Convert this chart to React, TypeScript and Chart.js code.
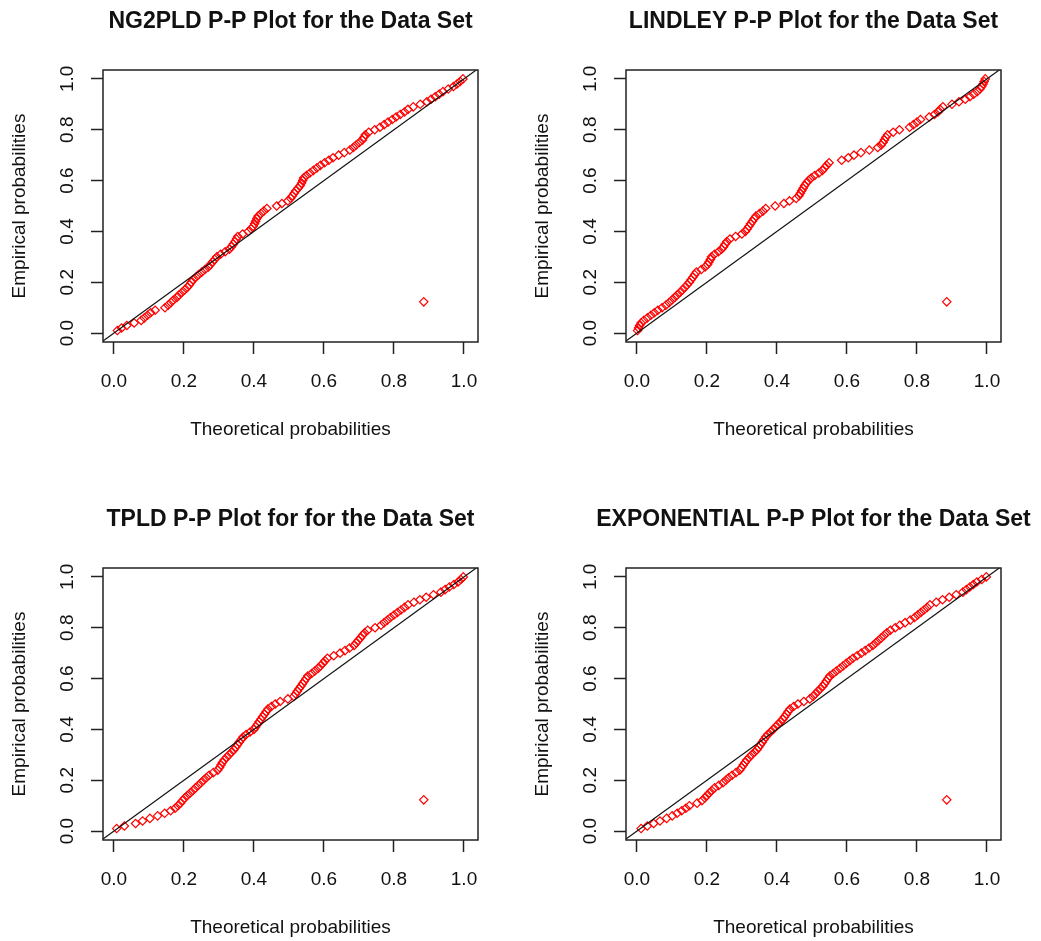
import React, { useEffect, useRef } from 'react';
import { Chart, registerables } from 'chart.js';

Chart.register(...registerables);

const FONT = '"Liberation Sans", Arial, Helvetica, sans-serif';

// Empirical probabilities (ECDF values) shared by every panel
const empirical = [
  0.01, 0.02, 0.03, 0.04, 0.05, 0.06, 0.07, 0.08, 0.09, 0.10,
  0.11, 0.12, 0.13, 0.14, 0.15, 0.16, 0.17, 0.18, 0.19, 0.20,
  0.21, 0.22, 0.23, 0.24, 0.25, 0.26, 0.27, 0.28, 0.29, 0.30,
  0.31, 0.32, 0.33, 0.34, 0.35, 0.36, 0.37, 0.38, 0.39, 0.40,
  0.41, 0.42, 0.43, 0.44, 0.45, 0.46, 0.47, 0.48, 0.49, 0.50,
  0.51, 0.52, 0.53, 0.54, 0.55, 0.56, 0.57, 0.58, 0.59, 0.60,
  0.61, 0.62, 0.63, 0.64, 0.65, 0.66, 0.67, 0.68, 0.69, 0.70,
  0.71, 0.72, 0.73, 0.74, 0.75, 0.76, 0.77, 0.78, 0.79, 0.80,
  0.81, 0.82, 0.83, 0.84, 0.85, 0.86, 0.87, 0.88, 0.89, 0.90,
  0.91, 0.92, 0.93, 0.94, 0.95, 0.96, 0.97, 0.98, 0.99, 1.00,
];

// Theoretical probabilities for each fitted model
const ng2pldTheoretical = [
  0.010, 0.022, 0.037, 0.058, 0.078, 0.087, 0.096, 0.105, 0.118, 0.146,
  0.155, 0.163, 0.170, 0.180, 0.186, 0.194, 0.202, 0.210, 0.216, 0.221,
  0.226, 0.234, 0.242, 0.251, 0.260, 0.270, 0.276, 0.282, 0.288, 0.294,
  0.305, 0.318, 0.330, 0.336, 0.341, 0.346, 0.350, 0.354, 0.368, 0.384,
  0.392, 0.398, 0.402, 0.405, 0.408, 0.412, 0.420, 0.428, 0.437, 0.465,
  0.480, 0.497, 0.505, 0.510, 0.515, 0.520, 0.526, 0.532, 0.536, 0.539,
  0.542, 0.550, 0.560, 0.570, 0.580, 0.590, 0.602, 0.614, 0.626, 0.642,
  0.658, 0.674, 0.684, 0.692, 0.701, 0.710, 0.714, 0.718, 0.728, 0.745,
  0.760, 0.772, 0.783, 0.795, 0.806, 0.818, 0.830, 0.840, 0.855, 0.875,
  0.894, 0.906, 0.918, 0.929, 0.940, 0.955, 0.970, 0.980, 0.989, 0.997,
];

const lindleyTheoretical = [
  0.002, 0.005, 0.008, 0.012, 0.020, 0.030, 0.040, 0.050, 0.060, 0.072,
  0.083, 0.092, 0.100, 0.108, 0.115, 0.123, 0.130, 0.137, 0.144, 0.150,
  0.155, 0.160, 0.165, 0.170, 0.184, 0.195, 0.202, 0.206, 0.210, 0.213,
  0.222, 0.233, 0.242, 0.248, 0.252, 0.257, 0.266, 0.282, 0.300, 0.310,
  0.315, 0.320, 0.325, 0.330, 0.335, 0.340, 0.350, 0.360, 0.368, 0.395,
  0.420, 0.436, 0.455, 0.463, 0.467, 0.471, 0.475, 0.479, 0.484, 0.490,
  0.498, 0.508, 0.520, 0.530, 0.536, 0.542, 0.549, 0.585, 0.604, 0.620,
  0.640, 0.664, 0.688, 0.698, 0.703, 0.707, 0.711, 0.716, 0.732, 0.750,
  0.779, 0.790, 0.800, 0.810, 0.835, 0.850, 0.860, 0.866, 0.874, 0.900,
  0.920, 0.938, 0.951, 0.962, 0.972, 0.980, 0.985, 0.989, 0.992, 0.995,
];

const tpldTheoretical = [
  0.008, 0.030, 0.062, 0.082, 0.103, 0.125, 0.145, 0.162, 0.175, 0.183,
  0.190, 0.196, 0.202, 0.210, 0.218, 0.226, 0.233, 0.241, 0.249, 0.256,
  0.264, 0.272, 0.284, 0.297, 0.302, 0.306, 0.310, 0.315, 0.322, 0.329,
  0.336, 0.343, 0.348, 0.353, 0.358, 0.364, 0.369, 0.378, 0.389, 0.400,
  0.405, 0.410, 0.415, 0.420, 0.425, 0.430, 0.435, 0.440, 0.450, 0.461,
  0.475, 0.497, 0.514, 0.519, 0.524, 0.529, 0.534, 0.539, 0.544, 0.549,
  0.554, 0.565, 0.574, 0.583, 0.590, 0.597, 0.603, 0.610, 0.628, 0.646,
  0.660, 0.673, 0.686, 0.692, 0.698, 0.704, 0.710, 0.716, 0.725, 0.746,
  0.763, 0.772, 0.781, 0.790, 0.800, 0.810, 0.820, 0.830, 0.840, 0.857,
  0.874, 0.892, 0.913, 0.934, 0.946, 0.958, 0.971, 0.983, 0.991, 0.998,
];

const exponentialTheoretical = [
  0.012, 0.030, 0.048, 0.066, 0.085, 0.101, 0.115, 0.128, 0.140, 0.150,
  0.172, 0.186, 0.194, 0.200, 0.207, 0.214, 0.222, 0.234, 0.246, 0.254,
  0.262, 0.272, 0.283, 0.294, 0.299, 0.304, 0.309, 0.314, 0.321, 0.328,
  0.336, 0.343, 0.348, 0.353, 0.358, 0.363, 0.368, 0.374, 0.382, 0.389,
  0.396, 0.403, 0.410, 0.417, 0.422, 0.427, 0.432, 0.437, 0.448, 0.460,
  0.477, 0.494, 0.503, 0.510, 0.517, 0.524, 0.531, 0.536, 0.541, 0.546,
  0.551, 0.561, 0.570, 0.580, 0.589, 0.598, 0.608, 0.617, 0.629, 0.641,
  0.652, 0.663, 0.674, 0.682, 0.690, 0.698, 0.706, 0.714, 0.724, 0.738,
  0.751, 0.766, 0.781, 0.793, 0.802, 0.811, 0.820, 0.829, 0.837, 0.855,
  0.873, 0.892, 0.912, 0.931, 0.941, 0.951, 0.961, 0.971, 0.985, 0.998,
];

// The single out-of-line observation seen in each panel
const outlierTheoretical = 0.885;
const outlierEmpirical = 0.123;

const tickValues = [0, 0.2, 0.4, 0.6, 0.8, 1.0];

const panelTitles = [
  'NG2PLD P-P Plot for the Data Set',
  'LINDLEY P-P Plot for the Data Set',
  'TPLD P-P Plot for for the Data Set',
  'EXPONENTIAL P-P Plot for the Data Set',
];
const panelSeries = [ng2pldTheoretical, lindleyTheoretical, tpldTheoretical, exponentialTheoretical];

const xAxisLabel = 'Theoretical probabilities';
const yAxisLabel = 'Empirical probabilities';

const panelPositions = [
  { left: 0, top: 0 },
  { left: 523, top: 0 },
  { left: 0, top: 498 },
  { left: 523, top: 498 },
];

const CANVAS_W = 520;
const CANVAS_H = 450;

// Box around the plot region plus an R-style main title centred over it
const rFramePlugin = {
  id: 'rframe',
  afterDatasetsDraw(chart: any) {
    const { ctx, chartArea } = chart;
    ctx.save();
    ctx.strokeStyle = '#222';
    ctx.lineWidth = 1.5;
    ctx.strokeRect(chartArea.left, chartArea.top, chartArea.right - chartArea.left, chartArea.bottom - chartArea.top);
    ctx.restore();
  },
  afterDraw(chart: any, _args: any, opts: any) {
    const { ctx, chartArea } = chart;
    ctx.save();
    ctx.fillStyle = '#111';
    ctx.font = `bold 23px ${FONT}`;
    ctx.textAlign = 'center';
    ctx.textBaseline = 'middle';
    ctx.fillText(opts.text, (chartArea.left + chartArea.right) / 2, 22);
    ctx.restore();
  },
};

function Panel({ title, xs, left, top }: { title: string; xs: number[]; left: number; top: number }) {
  const ref = useRef<HTMLCanvasElement>(null);
  useEffect(() => {
    const pts = xs.map((x, i) => ({ x, y: empirical[i] }));
    pts.push({ x: outlierTheoretical, y: outlierEmpirical });
    const tickFont = { family: FONT, size: 19 };
    const setTicks = (scale: any) => {
      scale.ticks = tickValues.map((v) => ({ value: v }));
    };
    const gridOpts = {
      display: true,
      drawOnChartArea: false,
      drawTicks: true,
      tickLength: 12,
      tickColor: '#222',
      tickWidth: 1.5,
      color: '#222',
    };
    const chart = new Chart(ref.current as HTMLCanvasElement, {
      type: 'scatter',
      data: {
        datasets: [
          {
            type: 'line',
            data: [
              { x: -0.1, y: -0.1 },
              { x: 1.1, y: 1.1 },
            ],
            borderColor: '#111',
            borderWidth: 1.2,
            pointRadius: 0,
            fill: false,
            clip: 0,
          } as any,
          {
            type: 'scatter',
            data: pts,
            pointStyle: 'rectRot',
            pointRadius: 4.2,
            pointHoverRadius: 4.2,
            borderColor: '#ff0000',
            backgroundColor: 'rgba(0,0,0,0)',
            borderWidth: 1.2,
          } as any,
        ],
      },
      options: {
        responsive: false,
        animation: false,
        events: [],
        layout: { padding: { left: 0, right: 42, top: 70, bottom: 0 } },
        plugins: {
          legend: { display: false },
          tooltip: { enabled: false },
          title: { display: false },
          rframe: { text: title },
        },
        scales: {
          x: {
            type: 'linear',
            min: -0.031,
            max: 1.04,
            afterBuildTicks: setTicks,
            afterFit: (s: any) => {
              s.height = CANVAS_H - 342;
            },
            grid: gridOpts,
            border: { display: false },
            ticks: {
              font: tickFont,
              color: '#111',
              padding: 16,
              autoSkip: false,
              maxRotation: 0,
              minRotation: 0,
              callback: (v: any) => Number(v).toFixed(1),
            },
            title: {
              display: true,
              text: xAxisLabel,
              color: '#111',
              font: { family: FONT, size: 19 },
              padding: { top: 0, bottom: 8.6 },
            },
          },
          y: {
            type: 'linear',
            min: -0.035,
            max: 1.035,
            afterBuildTicks: setTicks,
            afterFit: (s: any) => {
              s.width = 103;
            },
            grid: gridOpts,
            border: { display: false },
            ticks: {
              font: tickFont,
              color: '#111',
              padding: 10,
              autoSkip: false,
              minRotation: 90,
              maxRotation: 90,
              crossAlign: 'center',
              callback: (v: any) => Number(v).toFixed(1),
            },
            title: {
              display: true,
              text: yAxisLabel,
              color: '#111',
              font: { family: FONT, size: 19 },
              padding: { top: 8.6, bottom: 0 },
            },
          },
        },
      } as any,
      plugins: [rFramePlugin],
    });
    return () => chart.destroy();
  }, [title, xs]);
  return (
    <canvas
      ref={ref}
      width={CANVAS_W}
      height={CANVAS_H}
      style={{ position: 'absolute', left, top, width: CANVAS_W, height: CANVAS_H }}
    />
  );
}

export default function App() {
  return (
    <div
      style={{
        position: 'absolute',
        left: 0,
        top: 0,
        width: 1041,
        height: 941,
        overflow: 'hidden',
        background: '#fff',
      }}
    >
      {panelTitles.map((t, i) => (
        <Panel key={t} title={t} xs={panelSeries[i]} left={panelPositions[i].left} top={panelPositions[i].top} />
      ))}
    </div>
  );
}
